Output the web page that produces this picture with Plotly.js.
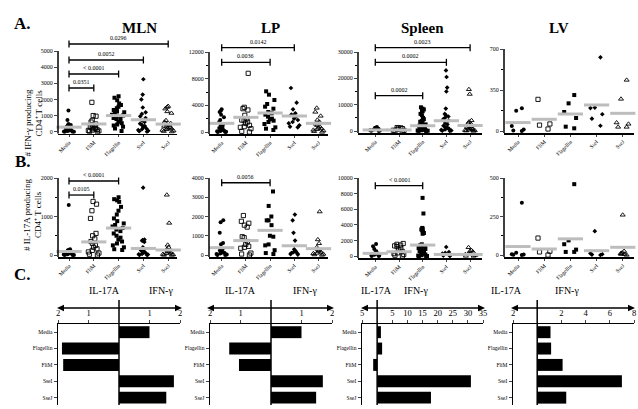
<!DOCTYPE html>
<html><head><meta charset="utf-8">
<script src="https://cdn.plot.ly/plotly-3.0.1.min.js"></script>
<style>html,body{margin:0;padding:0;background:#fff}#chart{width:638px;height:409px}</style>
</head><body><div id="chart"></div>
<script>
// ---------- DATA ----------
const categories = ['Media', 'FliM', 'Flagellin', 'SseI', 'SseJ'];
const barCategories = ['Media', 'Flagellin', 'FliM', 'SseI', 'SseJ'];
const tissues = ['MLN', 'LP', 'Spleen', 'LV'];

// A. # IFN-γ producing CD4+ T cells (per category, order = categories)
const mlnIFN = [
  [1320, 720, 480, 420, 380, 320, 280, 240, 200, 160, 130, 100, 80, 60, 40, 20, 0, 0, 0],
  [1820, 1000, 960, 700, 600, 480, 420, 360, 300, 260, 220, 180, 140, 100, 80, 50, 20, 0],
  [2200, 2100, 1950, 1750, 1650, 1550, 1450, 1350, 1250, 1200, 1100, 1050, 1000, 950, 900, 850, 780, 700, 620, 520, 450, 380, 300, 200, 50],
  [3250, 2300, 2000, 1500, 1200, 1100, 950, 850, 700, 600, 500, 420, 350, 280, 200, 150, 100, 60, 30, 0],
  [1580, 1520, 1420, 1250, 1150, 700, 600, 520, 450, 400, 350, 300, 260, 220, 180, 140, 100, 60, 30, 0]
];
const mlnIFNmean = [280, 480, 1000, 740, 470];
const lpIFN = [
  [3400, 3200, 3000, 2600, 2200, 1800, 1500, 1200, 1000, 800, 600, 500, 400, 300, 200, 150, 100, 50, 0, 0],
  [8800, 3700, 3500, 3300, 2500, 2000, 1800, 1700, 1500, 1300, 1000, 800, 700, 500, 100, 0],
  [6100, 5600, 4800, 4200, 3800, 3500, 3000, 2800, 2600, 2300, 2000, 1900, 1700, 1500, 1200, 700, 500, 300],
  [6600, 4400, 3400, 2800, 2600, 2500, 2300, 2000, 1800, 1500, 1300, 1000, 800, 700],
  [3600, 3000, 2400, 1800, 1500, 1200, 1000, 800, 600, 500, 400, 300, 200, 100, 0]
];
const lpIFNmean = [1300, 2200, 2850, 2400, 1300];
const splIFN = [
  [1500, 1200, 900, 600, 300, 200, 100, 0],
  [1300, 1200, 1100, 900, 600, 300, 200, 100, 0],
  [9000, 8500, 8200, 7800, 7500, 6500, 6000, 5000, 4500, 4000, 3800, 3500, 3000, 2500, 2200, 2000, 1800, 1500, 1200, 1000, 800, 600, 500, 400, 300, 200, 100, 50, 0],
  [23000, 20500, 16500, 15000, 8500, 6500, 6000, 5500, 5000, 4500, 4000, 3000, 2500, 2000, 1500, 1200, 1000, 800, 600, 400, 200, 100, 0],
  [15800, 14000, 4000, 3500, 3000, 2500, 2000, 1800, 1500, 1200, 1000, 800, 600, 400, 300, 200, 100, 0]
];
const splIFNmean = [400, 400, 2000, 3900, 2100];
const lvIFN = [
  [195, 172, 42, 12, 5, 0],
  [270, 60, 50, 17],
  [307, 236, 162, 111, 37, 23],
  [629, 196, 200, 143, 105, 45],
  [435, 273, 71, 60, 34, 34]
];
const lvIFNmean = [72, 100, 145, 222, 151];

// B. # IL-17A producing CD4+ T cells
const mlnIL17 = [
  [1300, 150, 130, 110, 100, 90, 80, 70, 60, 50, 40, 30, 20, 10, 0, 0, 0],
  [1390, 1320, 1150, 950, 560, 500, 420, 350, 300, 250, 200, 160, 120, 80, 50, 20, 0],
  [1500, 1450, 1420, 1380, 1250, 1150, 1050, 950, 880, 820, 780, 740, 700, 660, 620, 560, 500, 450, 400, 350, 300, 250, 200, 150, 130],
  [1750, 400, 390, 370, 340, 200, 150, 120, 100, 80, 60, 40, 30, 20, 10, 0, 0],
  [1560, 830, 260, 200, 150, 120, 100, 80, 60, 40, 20, 10, 0, 0]
];
const mlnIL17mean = [90, 340, 700, 170, 130];
const lpIL17 = [
  [1800, 1700, 1150, 620, 560, 300, 250, 200, 150, 120, 100, 80, 50, 20, 0, 0],
  [2050, 1750, 1650, 1550, 1450, 950, 900, 700, 550, 450, 400, 350, 100, 50, 0],
  [3300, 2550, 2000, 1800, 1800, 1550, 1000, 950, 550, 500, 250, 100, 50],
  [2100, 1800, 1150, 750, 300, 200, 150, 100, 80, 50, 20],
  [2250, 800, 600, 400, 300, 250, 200, 150, 100, 80, 50, 20, 0]
];
const lpIL17mean = [380, 750, 1280, 480, 330];
const splIL17 = [
  [1550, 1250, 900, 600, 400, 250, 150, 100, 50, 0, 0],
  [1600, 1500, 1400, 1300, 1200, 1000, 800, 600, 400, 300, 200, 100, 0],
  [7450, 5450, 3600, 3500, 3400, 3300, 3100, 2950, 2850, 1500, 1400, 1300, 1200, 1100, 1000, 900, 800, 700, 600, 500, 400, 300, 200, 100, 50, 0, 0, 0],
  [1150, 500, 400, 300, 100, 50, 0],
  [1100, 700, 600, 500, 300, 200, 100, 0, 0]
];
const splIL17mean = [340, 550, 1400, 200, 200];
const lvIL17 = [
  [340, 15, 5, 3, 2, 0],
  [110, 25, 20, 0],
  [460, 95, 70, 35, 20, 20],
  [155, 10, 5, 3, 0],
  [260, 25, 15, 10, 5, 5, 0]
];
const lvIL17mean = [55, 39, 105, 28, 50];

// significance brackets (Media vs. category)
const mlnIFNsig = [['FliM', '0.0351', 2708], ['Flagellin', '< 0.0001', 3575], ['SseI', '0.0052', 4443], ['SseJ', '0.0296', 5434]];
const lpIFNsig = [['Flagellin', '0.0036', 10450], ['SseI', '0.0142', 12650]];
const splIFNsig = [['Flagellin', '0.0002', 13400], ['SseI', '0.0002', 26080], ['SseJ', '0.0023', 31630]];
const lvIFNsig = [];
const mlnIL17sig = [['FliM', '0.0105', 1558], ['Flagellin', '< 0.0001', 1922]];
const lpIL17sig = [['Flagellin', '0.0056', 3752]];
const splIL17sig = [['Flagellin', '< 0.0001', 9010]];
const lvIL17sig = [];

// y tick values
const ifnTicks = [[0, 1000, 2000, 3000, 4000, 5000], [0, 4000, 8000, 12000], [0, 10000, 20000, 30000], [0, 350, 700]];
const ifnMinor = [[], [2000, 6000, 10000], [5000, 15000, 25000], [175, 525]];
const il17Ticks = [[0, 1000, 2000], [0, 1000, 2000, 3000, 4000], [0, 2000, 4000, 6000, 8000, 10000], [0, 250, 500]];
const il17Minor = [[500, 1500], [], [], [125, 375]];

// C. fold values (IL-17A to the left, IFN-γ to the right), order = barCategories
const mlnIL17bar = [0, 1.87, 1.83, 0, 0];
const mlnIFNbar = [1.0, 0, 0, 1.8, 1.55];
const lpIL17bar = [0, 1.37, 1.05, 0, 0];
const lpIFNbar = [1.0, 0, 0, 1.7, 1.48];
const splIL17bar = [0, 0, 1.3, 0, 0];
const splIFNbar = [1.25, 1.65, 0, 31, 17.8];
const lvIL17bar = [0, 0, 0, 0, 0];
const lvIFNbar = [1.1, 1.15, 2.1, 7.0, 2.4];
const barTicks = [[-2, -1, 1, 2], [-2, -1, 1, 2], [-5, 5, 10, 15, 20, 25, 30, 35], [-2, 2, 4, 6, 8]];

// ---------- LAYOUT GEOMETRY ----------
const W = 638, H = 409;
const px = p => p / W;
const py = p => 1 - p / H;
const SERIF = 'Liberation Serif, Times New Roman, serif';

const cols = [
  {left: 58, right: 177, c0: 69, d: 24.8},
  {left: 209, right: 328, c0: 221.7, d: 24.2},
  {left: 358, right: 482, c0: 375.3, d: 23.7},
  {left: 504, right: 634, c0: 518, d: 26.2}
];
const rowsGeom = [
  {zero: [131.7, 132, 131, 131], top: [51, 52, 52, 49], domTop: [34, 34, 34, 45]},
  {zero: [255, 255, 256, 255], top: [178, 178, 178, 178], domTop: [166, 166, 166, 170]}
];

const markerStyles = [
  {symbol: 'circle', size: 4, color: '#000', line: {width: 0, color: '#000'}},
  {symbol: 'square-open', size: 4.2, color: '#000', line: {width: 0.9, color: '#000'}},
  {symbol: 'square', size: 4, color: '#000', line: {width: 0, color: '#000'}},
  {symbol: 'diamond', size: 3.6, color: '#000', line: {width: 0, color: '#000'}},
  {symbol: 'triangle-up-open', size: 4.4, color: '#000', line: {width: 0.9, color: '#000'}}
];

const panels = [
  [mlnIFN, mlnIFNmean, mlnIFNsig], [lpIFN, lpIFNmean, lpIFNsig], [splIFN, splIFNmean, splIFNsig], [lvIFN, lvIFNmean, lvIFNsig],
  [mlnIL17, mlnIL17mean, mlnIL17sig], [lpIL17, lpIL17mean, lpIL17sig], [splIL17, splIL17mean, splIL17sig], [lvIL17, lvIL17mean, lvIL17sig]
];

const traces = [];
const layout = {
  width: W, height: H, margin: {l: 0, r: 0, t: 0, b: 0},
  paper_bgcolor: '#fff', plot_bgcolor: 'rgba(0,0,0,0)',
  showlegend: false, boxmode: 'overlay', boxgap: 0.2, barmode: 'relative', bargap: 0.27,
  font: {family: SERIF, color: '#000'},
  shapes: [], annotations: []
};
const id = n => (n === 1 ? '' : String(n));

panels.forEach((p, k) => {
  const n = k + 1;
  const row = Math.floor(k / 4), col = k % 4;
  const c = cols[col];
  const g = rowsGeom[row];
  const zero = g.zero[col], topPx = g.top[col], domTop = g.domTop[col];
  const ticks = row === 0 ? ifnTicks[col] : il17Ticks[col];
  const minor = row === 0 ? ifnMinor[col] : il17Minor[col];
  const topVal = ticks[ticks.length - 1];
  const s = topVal / (zero - topPx);
  const bottom = zero + 2;
  const yr = [-(bottom - zero) * s, (zero - domTop) * s];
  const xr = [(c.left - c.c0) / c.d, (c.right - c.c0) / c.d];
  const xa = 'x' + id(n), ya = 'y' + id(n);

  const [data, means, sig] = p;
  data.forEach((vals, i) => {
    traces.push({
      type: 'box', x: vals.map(() => i), y: vals, xaxis: xa, yaxis: ya,
      boxpoints: 'all', jitter: 1, pointpos: 0,
      fillcolor: 'rgba(0,0,0,0)', line: {color: 'rgba(0,0,0,0)', width: 0}, whiskerwidth: 0,
      marker: markerStyles[i], hoverinfo: 'y', name: categories[i]
    });
  });
  traces.push({
    type: 'scatter', mode: 'markers', x: categories.map((_, i) => i), y: means,
    xaxis: xa, yaxis: ya, cliponaxis: false, hoverinfo: 'y',
    marker: {symbol: 'line-ew', size: 18, color: '#bdbdbd', line: {width: 3, color: '#bdbdbd'}}
  });

  layout['xaxis' + id(n)] = {
    domain: [px(c.left), px(c.right)], range: xr, anchor: ya, type: 'linear',
    tickvals: categories.map((_, i) => i), ticktext: categories, tickangle: -45,
    tickfont: {size: 5.5, family: SERIF, color: '#000'}, ticks: 'outside', ticklen: 2, tickwidth: 1,
    showline: true, linewidth: 1.5, linecolor: '#000', showgrid: false, zeroline: false, fixedrange: true
  };
  const yax = {
    domain: [py(bottom), py(domTop)], range: yr, anchor: xa,
    tickvals: ticks, ticktext: ticks.map(String), tickfont: {size: 6, family: SERIF, color: '#000'},
    ticks: 'outside', ticklen: 3, tickwidth: 1, showline: false, showgrid: false, zeroline: false, fixedrange: true
  };
  if (minor.length) yax.minor = {tickvals: minor, ticks: 'outside', ticklen: 2, tickwidth: 1, tickcolor: '#000', showgrid: false};
  layout['yaxis' + id(n)] = yax;

  layout.shapes.push({type: 'line', xref: xa + ' domain', yref: ya, x0: 0, x1: 0, y0: yr[0], y1: topVal, line: {color: '#000', width: 1.5}});

  sig.forEach(([to, label, yv]) => {
    const i1 = categories.indexOf(to);
    layout.shapes.push({type: 'line', xref: xa, yref: ya, x0: 0, x1: i1, y0: yv, y1: yv, line: {color: '#000', width: 1.3}});
    [0, i1].forEach(ix => layout.shapes.push({type: 'line', xref: xa, yref: ya, ysizemode: 'pixel', yanchor: yv, x0: ix, x1: ix, y0: -3.5, y1: 3.5, line: {color: '#000', width: 1.3}}));
    layout.annotations.push({xref: xa, yref: ya, x: i1 / 2, y: yv, yanchor: 'bottom', yshift: 1, showarrow: false, text: label, font: {size: 6, family: SERIF, color: '#000'}});
  });

  if (row === 0) {
    layout.annotations.push({xref: 'paper', yref: 'paper', x: px((c.left + c.right) / 2 + 2), y: py(18), showarrow: false,
      text: '<b>' + tissues[col] + '</b>', font: {size: 15, family: SERIF, color: '#000'}});
  }
});

// ---------- C. bar panels ----------
const barSets = [[mlnIL17bar, mlnIFNbar], [lpIL17bar, lpIFNbar], [splIL17bar, splIFNbar], [lvIL17bar, lvIFNbar]];
const barGeom = [
  {left: 58, right: 180, range: [-2, 2], a0: 57, a1: 182, il: 87, ifn: 147},
  {left: 210, right: 332, range: [-2, 2], a0: 207, a1: 334, il: 240, ifn: 305},
  {left: 362, right: 483, range: [-5, 35], a0: 361, a1: 485, il: 376, ifn: 430},
  {left: 513, right: 634, range: [-2, 8], a0: 511, a1: 635, il: 524, ifn: 581}
];
const AY = 308, AH = 3.2, AL = 7;
barSets.forEach(([il, ifn], j) => {
  const n = 9 + j;
  const b = barGeom[j];
  const xa = 'x' + n, ya = 'y' + n;
  traces.push({type: 'bar', orientation: 'h', x: il.map(v => -v), y: barCategories, xaxis: xa, yaxis: ya,
    marker: {color: '#000', line: {width: 0}}, name: 'IL-17A', hoverinfo: 'x+y'});
  traces.push({type: 'bar', orientation: 'h', x: ifn, y: barCategories, xaxis: xa, yaxis: ya,
    marker: {color: '#000', line: {width: 0}}, name: 'IFN-γ', hoverinfo: 'x+y'});
  layout['xaxis' + n] = {
    domain: [px(b.left), px(b.right)], range: b.range, anchor: ya, side: 'top',
    tickvals: barTicks[j], ticktext: barTicks[j].map(v => String(Math.abs(v))),
    tickfont: {size: 8.5, family: SERIF, color: '#000'}, ticks: 'outside', ticklen: 3, tickwidth: 1,
    showline: true, linewidth: 1.5, linecolor: '#000', showgrid: false, zeroline: false, fixedrange: true
  };
  layout['yaxis' + n] = {
    domain: [py(405), py(324)], type: 'category', categoryarray: barCategories, categoryorder: 'array',
    range: [4.45, -0.5], anchor: xa, tickfont: {size: 5.5, family: SERIF, color: '#000'},
    ticks: 'outside', ticklen: 3, tickwidth: 1, showline: true, linewidth: 1.5, linecolor: '#000',
    showgrid: false, zeroline: false, fixedrange: true
  };
  layout.shapes.push({type: 'line', xref: xa, yref: 'paper', x0: 0, x1: 0, y0: py(300), y1: py(405), line: {color: '#000', width: 1.5}});
  // double-headed arrow above the axis
  layout.shapes.push({type: 'line', xref: 'paper', yref: 'paper', x0: px(b.a0 + 3), x1: px(b.a1 - 3), y0: py(AY), y1: py(AY), line: {color: '#000', width: 1.6}});
  layout.shapes.push({type: 'path', xref: 'paper', yref: 'paper', fillcolor: '#000', line: {width: 0},
    path: `M ${px(b.a0)} ${py(AY)} L ${px(b.a0 + AL)} ${py(AY - AH)} L ${px(b.a0 + AL)} ${py(AY + AH)} Z`});
  layout.shapes.push({type: 'path', xref: 'paper', yref: 'paper', fillcolor: '#000', line: {width: 0},
    path: `M ${px(b.a1)} ${py(AY)} L ${px(b.a1 - AL)} ${py(AY - AH)} L ${px(b.a1 - AL)} ${py(AY + AH)} Z`});
  layout.annotations.push({xref: 'paper', yref: 'paper', x: px(b.il), y: py(298), showarrow: false, text: 'IL-17A', font: {size: 10, family: SERIF, color: '#000'}});
  layout.annotations.push({xref: 'paper', yref: 'paper', x: px(b.ifn), y: py(298), showarrow: false, text: 'IFN-γ', font: {size: 10, family: SERIF, color: '#000'}});
});

// panel letters & y titles (one annotation per line)
[['A.', 12, 12], ['B.', 13, 162], ['C.', 12, 286]].forEach(([t, x, y]) => layout.annotations.push({
  xref: 'paper', yref: 'paper', x: px(x), y: py(y), showarrow: false, text: '<b>' + t + '</b>', font: {size: 17, family: SERIF, color: '#000'}}));
[['# IFN-γ producing', 20, 88], ['CD4⁺ T cells', 31, 88], ['# IL-17A producing', 20, 215], ['CD4⁺ T cells', 31, 215]].forEach(([t, x, y]) =>
  layout.annotations.push({xref: 'paper', yref: 'paper', x: px(x), y: py(y), showarrow: false, textangle: -90,
    text: t, font: {size: 9, family: SERIF, color: '#000'}}));

Plotly.newPlot('chart', traces, layout, {staticPlot: true, displayModeBar: false});
</script></body></html>
